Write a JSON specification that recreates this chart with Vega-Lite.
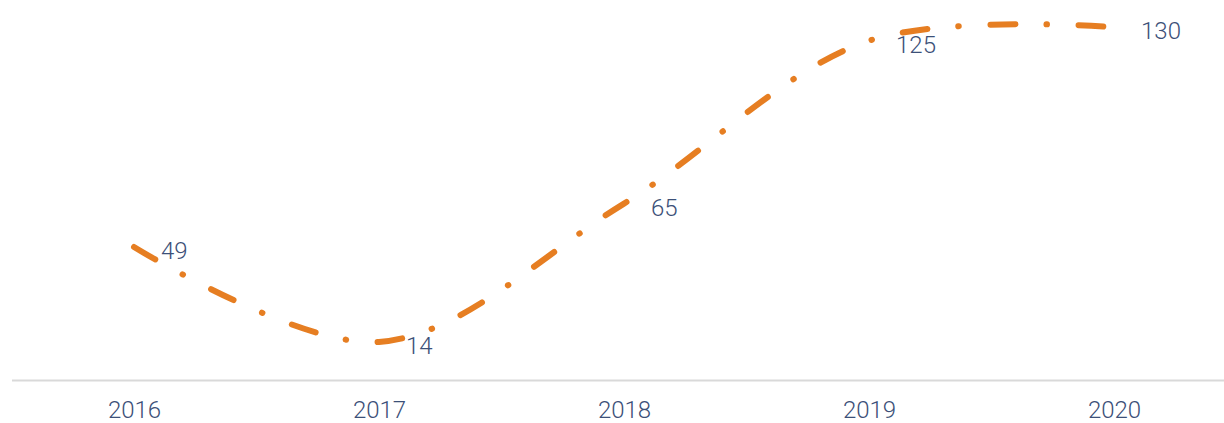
{
  "$schema": "https://vega.github.io/schema/vega-lite/v6.json",
  "width": 1225,
  "height": 380,
  "autosize": {"type": "none"},
  "padding": {"left": 11.5, "top": 0, "right": 0, "bottom": 43},
  "background": "white",
  "config": {"view": {"stroke": null}, "font": "Roboto"},
  "data": {"values": [
    {"year": "2016", "value": 49},
    {"year": "2017", "value": 14},
    {"year": "2018", "value": 65},
    {"year": "2019", "value": 125},
    {"year": "2020", "value": 130}
  ]},
  "encoding": {
    "x": {"field": "year", "type": "ordinal", "scale": {"type": "point", "padding": 0.5},
      "axis": {"title": null, "labelAngle": 0, "labelFont": "Roboto", "labelFontWeight": 300, "labelFontSize": 24, "labelColor": "#3C5078", "domainColor": "#D9D9D9", "domainWidth": 2, "ticks": false, "labelPadding": 18, "grid": false}},
    "y": {"field": "value", "type": "quantitative", "scale": {"domain": [0, 140], "nice": false}, "axis": null}
  },
  "layer": [
    {"mark": {"type": "line", "interpolate": "catmull-rom", "color": "#E67E22", "strokeWidth": 6, "strokeCap": "round", "strokeDash": [25, 31, 0.5, 31.5]}},
    {"mark": {"type": "text", "align": "left", "baseline": "middle", "dx": 27, "dy": 5, "font": "Roboto", "fontWeight": 300, "fontSize": 24, "color": "#3C5078"},
      "encoding": {"text": {"field": "value", "type": "quantitative"}}}
  ]
}
